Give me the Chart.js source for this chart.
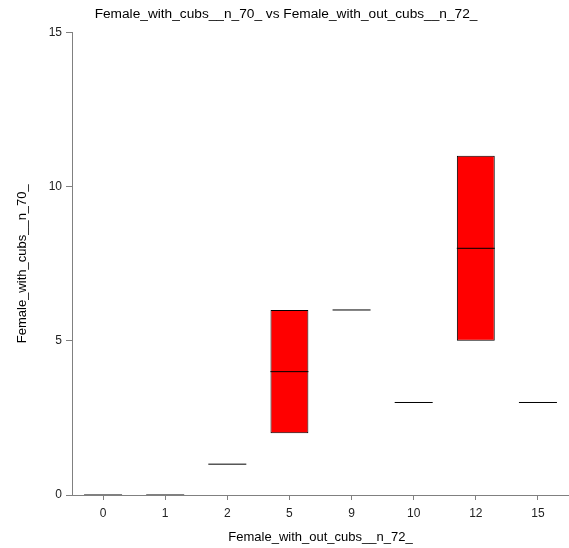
<!DOCTYPE html>
<html>
<head>
<meta charset="utf-8">
<script src="https://cdn.jsdelivr.net/npm/chart.js@4/dist/chart.umd.min.js"></script>
<style>
  html, body { margin: 0; padding: 0; background: #fff; }
  #wrap { width: 569px; height: 548px; }
</style>
</head>
<body>
<div id="wrap"><canvas id="boxChart"></canvas></div>
<script>
// categories on x (Female_with_out_cubs__n_72_)
const categories = ['0', '1', '2', '5', '9', '10', '12', '15'];
// box lower / upper quartile and median per category (Female_with_cubs__n_70_)
const lowerQ = [0, 0, 1, 2, 6, 3, 5, 3];
const upperQ = [0, 0, 1, 6, 6, 3, 11, 3];
const medians = [0, 0, 1, 4, 6, 3, 8, 3];
const yTicks = [0, 5, 10, 15];

const font = 'Liberation Sans, Arial, sans-serif';
const axisGrey = '#808080';

// floating bars only where the box has height
const boxes = lowerQ.map((lo, i) => (upperQ[i] > lo ? [lo, upperQ[i]] : null));

const chart = new Chart(document.getElementById('boxChart'), {
  data: {
    labels: categories,
    datasets: [{
      type: 'bar',
      data: boxes,
      backgroundColor: '#ff0000',
      borderColor: '#000000',
      borderWidth: 1,
      borderSkipped: false,
      categoryPercentage: 1,
      barPercentage: 0.61,
      order: 2
    }, {
      type: 'line',
      data: medians,
      showLine: false,
      pointStyle: 'line',
      pointRadius: 19,
      pointHoverRadius: 19,
      borderColor: '#000000',
      borderWidth: 1,
      order: 1
    }]
  },
  options: {
    responsive: true,
    maintainAspectRatio: false,
    animation: false,
    layout: { padding: { left: 0, top: 0, bottom: 0, right: -3 } },
    plugins: {
      legend: { display: false },
      tooltip: { enabled: false },
      title: {
        display: true,
        text: 'Female_with_cubs__n_70_ vs Female_with_out_cubs__n_72_',
        color: '#000',
        font: { family: font, size: 13.7, weight: 'normal' },
        padding: { top: 6, bottom: 10 }
      }
    },
    scales: {
      x: {
        type: 'category',
        offset: true,
        grid: { display: true, drawOnChartArea: false, drawTicks: true, tickLength: 5, color: axisGrey, offset: false },
        border: { display: true, color: axisGrey, width: 1 },
        ticks: { color: '#222', font: { family: font, size: 12 }, padding: 6, maxRotation: 0 },
        title: {
          display: true,
          text: 'Female_with_out_cubs__n_72_',
          color: '#000',
          font: { family: font, size: 13 },
          padding: { top: 0, bottom: 3 }
        },
        afterFit: (scale) => { scale.height = 53; }
      },
      y: {
        min: 0,
        max: 15,
        afterBuildTicks: (scale) => { scale.ticks = yTicks.map(v => ({ value: v })); },
        grid: { display: true, drawOnChartArea: false, drawTicks: true, tickLength: 6, color: axisGrey },
        border: { display: true, color: axisGrey, width: 1 },
        ticks: { color: '#222', font: { family: font, size: 12 }, padding: 4 },
        title: {
          display: true,
          text: 'Female_with_cubs__n_70_',
          color: '#000',
          font: { family: font, size: 13 },
          padding: { top: 15, bottom: 0 }
        },
        afterFit: (scale) => { scale.width = 72; }
      }
    }
  }
});

// the wide median markers should not push the plot area in from the right edge
chart.getDatasetMeta(1).controller.getMaxOverflow = () => 0;
chart.update();
</script>
</body>
</html>
